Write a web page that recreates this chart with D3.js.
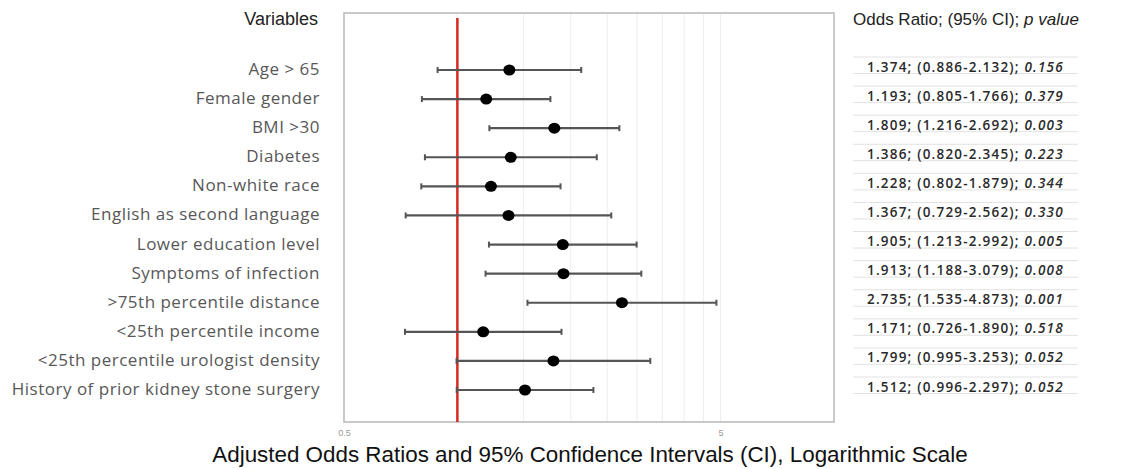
<!DOCTYPE html>
<html>
<head>
<meta charset="utf-8">
<script src="https://cdn.jsdelivr.net/npm/d3@7"></script>
<style>
  body { margin: 0; background: #fff; }
  svg { display: block; }
</style>
</head>
<body>
<svg width="1125" height="469"></svg>
<script>
// data (top row first)
var variables = ["Age > 65", "Female gender", "BMI >30", "Diabetes", "Non-white race",
  "English as second language", "Lower education level", "Symptoms of infection",
  ">75th percentile distance", "<25th percentile income",
  "<25th percentile urologist density", "History of prior kidney stone surgery"];
var oddsRatio = [1.374, 1.193, 1.809, 1.386, 1.228, 1.367, 1.905, 1.913, 2.735, 1.171, 1.799, 1.512];
var ciLow  = [0.886, 0.805, 1.216, 0.820, 0.802, 0.729, 1.213, 1.188, 1.535, 0.726, 0.995, 0.996];
var ciHigh = [2.132, 1.766, 2.692, 2.345, 1.879, 2.562, 2.992, 3.079, 4.873, 1.890, 3.253, 2.297];
var pValue = ["0.156", "0.379", "0.003", "0.223", "0.344", "0.330", "0.005", "0.008", "0.001", "0.518", "0.052", "0.052"];
var tickValues = [0.5, 5];
var gridValues = [1, 1.5, 2, 2.5, 3, 3.5, 4, 4.5, 5];

var rows = variables.map(function(v, i) {
  return { name: v, or: oddsRatio[i], lo: ciLow[i], hi: ciHigh[i], p: pValue[i] };
});

var svg = d3.select("svg");
var plot = { left: 344, right: 834, top: 13, bottom: 422 };

var x = d3.scaleLog()
    .domain([0.5, 10])
    .range([plot.left, plot.right]);

var y = d3.scalePoint()
    .domain(variables)
    .range([70, 390]);

// grid
svg.append("g").selectAll("line")
    .data(gridValues)
    .enter().append("line")
      .attr("x1", function(d) { return x(d); })
      .attr("x2", function(d) { return x(d); })
      .attr("y1", plot.top)
      .attr("y2", plot.bottom)
      .attr("stroke", "#ececec")
      .attr("stroke-width", 1);

// frame
svg.append("rect")
    .attr("x", plot.left)
    .attr("y", plot.top)
    .attr("width", plot.right - plot.left)
    .attr("height", plot.bottom - plot.top)
    .attr("fill", "none")
    .attr("stroke", "#b8b8b8")
    .attr("stroke-width", 1.5);

// x axis (tick labels only)
var xAxis = d3.axisBottom(x)
    .tickValues(tickValues)
    .tickSize(0)
    .tickPadding(8)
    .tickFormat(d3.format("~g"));

var gx = svg.append("g")
    .attr("transform", "translate(0," + plot.bottom + ")")
    .call(xAxis);
gx.select(".domain").remove();
gx.selectAll("text")
    .attr("fill", "#999")
    .style("font-family", "Arial, 'Liberation Sans', sans-serif")
    .style("font-size", "9px");

// reference line at 1
svg.append("line")
    .attr("x1", x(1)).attr("x2", x(1))
    .attr("y1", 18).attr("y2", plot.bottom)
    .attr("stroke", "#d42a20")
    .attr("stroke-width", 2.5);

// confidence intervals
var ci = svg.append("g").selectAll("g")
    .data(rows)
    .enter().append("g");

ci.append("line")
    .attr("x1", function(d) { return x(d.lo); })
    .attr("x2", function(d) { return x(d.hi); })
    .attr("y1", function(d) { return y(d.name); })
    .attr("y2", function(d) { return y(d.name); })
    .attr("stroke", "#555")
    .attr("stroke-width", 2.2);

ci.selectAll(".cap")
    .data(function(d) { return [d.lo, d.hi].map(function(v) { return { v: v, name: d.name }; }); })
    .enter().append("line")
      .attr("class", "cap")
      .attr("x1", function(d) { return x(d.v); })
      .attr("x2", function(d) { return x(d.v); })
      .attr("y1", function(d) { return y(d.name) - 3; })
      .attr("y2", function(d) { return y(d.name) + 3; })
      .attr("stroke", "#555")
      .attr("stroke-width", 2);

ci.append("ellipse")
    .attr("cx", function(d) { return x(d.or); })
    .attr("cy", function(d) { return y(d.name); })
    .attr("rx", 6)
    .attr("ry", 5.5)
    .attr("fill", "#000");

// left labels
svg.append("text")
    .attr("x", 318).attr("y", 25)
    .attr("text-anchor", "end")
    .style("font-family", "Arial, 'Liberation Sans', sans-serif")
    .style("font-size", "18px")
    .attr("fill", "#222")
    .text("Variables");

svg.append("g").selectAll("text")
    .data(rows)
    .enter().append("text")
      .attr("x", 320)
      .attr("y", function(d) { return y(d.name) + 5; })
      .attr("text-anchor", "end")
      .style("font-family", "'Open Sans', sans-serif")
      .style("font-size", "17px")
      .style("letter-spacing", "0.5px")
      .attr("fill", "#585858")
      .text(function(d) { return d.name; });

// right table
var head = svg.append("text")
    .attr("x", 853).attr("y", 25)
    .style("font-family", "Arial, 'Liberation Sans', sans-serif")
    .style("font-size", "17px")
    .attr("fill", "#222");
head.append("tspan").text("Odds Ratio; (95% CI); ");
head.append("tspan").style("font-style", "italic").text("p value");

var tbl = svg.append("g").selectAll("g")
    .data(rows)
    .enter().append("g")
      .attr("transform", function(d) { return "translate(0," + y(d.name) + ")"; });

tbl.selectAll("line")
    .data([-13, 3.5])
    .enter().append("line")
      .attr("x1", 853).attr("x2", 1078)
      .attr("y1", function(d) { return d; })
      .attr("y2", function(d) { return d; })
      .attr("stroke", "#e2e2e2")
      .attr("stroke-width", 1);

var cell = tbl.append("text")
    .attr("x", 867)
    .attr("y", 1.5)
    .style("font-family", "'Open Sans', sans-serif")
    .style("font-size", "13.5px")
    .style("font-weight", 600)
    .style("letter-spacing", "1.2px")
    .attr("fill", "#2a2a2a");
cell.append("tspan")
    .text(function(d) { return d3.format(".3f")(d.or) + "; (" + d3.format(".3f")(d.lo) + "-" + d3.format(".3f")(d.hi) + "); "; });
cell.append("tspan")
    .style("font-style", "italic")
    .text(function(d) { return d.p; });

// axis title
svg.append("text")
    .attr("x", 590).attr("y", 462)
    .attr("text-anchor", "middle")
    .style("font-family", "Arial, 'Liberation Sans', sans-serif")
    .style("font-size", "22.4px")
    .attr("fill", "#111")
    .text("Adjusted Odds Ratios and 95% Confidence Intervals (CI), Logarithmic Scale");
</script>
</body>
</html>
